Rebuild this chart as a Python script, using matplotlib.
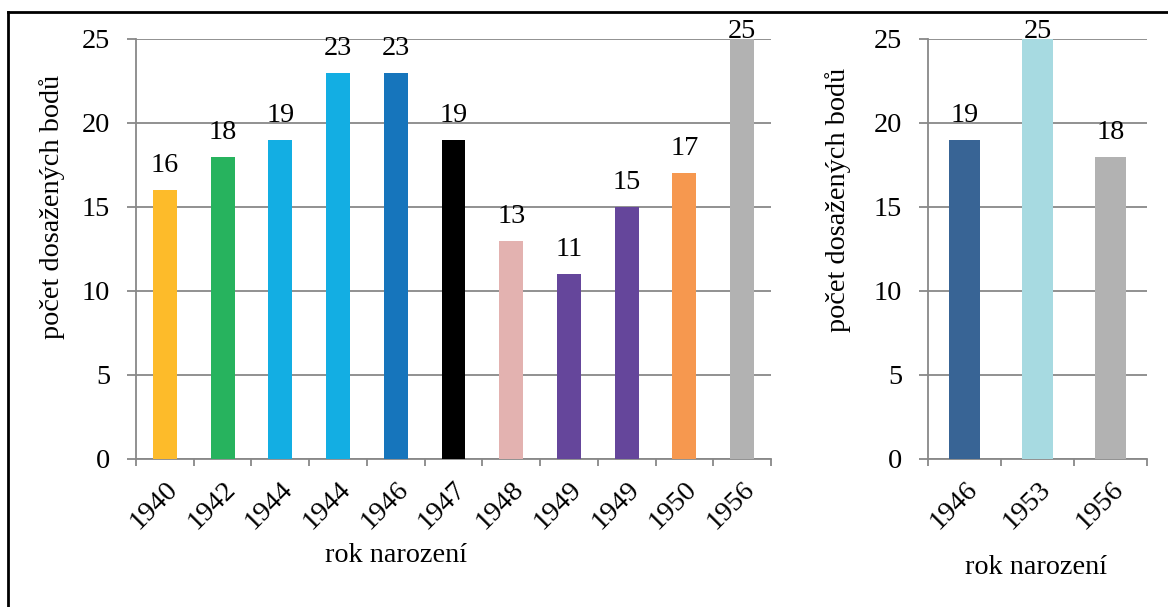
import numpy as np
import matplotlib.pyplot as plt
import matplotlib.transforms as mtransforms
from matplotlib.lines import Line2D

plt.rcParams['font.family'] = ['Liberation Serif', 'DejaVu Serif']

# Data
roky_1 = ['1940', '1942', '1944', '1944', '1946', '1947', '1948', '1949', '1949', '1950', '1956']
body_1 = [16, 18, 19, 23, 23, 19, 13, 11, 15, 17, 25]
barvy_1 = ['#FDBB2A', '#27B35E', '#13AEE3', '#13AEE3', '#1675BC', '#000000',
           '#E3B2B0', '#65469B', '#65469B', '#F6984F', '#B2B2B2']

roky_2 = ['1946', '1953', '1956']
body_2 = [19, 25, 18]
barvy_2 = ['#386495', '#A7DAE1', '#B2B2B2']

fs = 20.3
seda = '#888888'

fig = plt.figure(figsize=(11.68, 6.07), dpi=100)
W, H = 1168, 607


def px_axes(x0, x1, y_top, y_bot):
    return fig.add_axes([x0 / W, 1 - y_bot / H, (x1 - x0) / W, (y_bot - y_top) / H])


def kresli(ax, roky, body, barvy):
    x = np.arange(len(roky))
    ax.bar(x, body, width=0.415, color=barvy, zorder=3)
    ax.set_xlim(-0.5, len(roky) - 0.5)
    ax.set_ylim(0, 25)
    # popisky nad sloupci (u horniho okraje se stlaci dolu jako v Excelu)
    horni = ax.transData.transform((0, 25))[1]
    for xi, v in zip(x, body):
        y_disp = ax.transData.transform((0, v))[1]
        off_px = min(18, horni + 1 - y_disp)
        ax.annotate(str(v), (xi, v), xytext=(0, off_px * 72 / 100), textcoords='offset points',
                    ha='center', va='baseline', fontsize=fs, zorder=4, annotation_clip=False)
    ax.set_yticks(range(0, 26, 5))
    ax.yaxis.grid(True, color=seda, lw=1.3, zorder=0)
    ax.set_xticks(x)
    ax.set_xticklabels(roky, rotation=45, ha='right', rotation_mode='anchor', fontsize=fs)
    posun = mtransforms.ScaledTranslation(-4 / 100, 0, fig.dpi_scale_trans)
    for lab in ax.get_xticklabels():
        lab.set_transform(lab.get_transform() + posun)
    ax.set_xticks(np.arange(len(roky) + 1) - 0.5, minor=True)
    ax.tick_params(axis='x', which='major', length=0, pad=13)
    ax.tick_params(axis='x', which='minor', length=5, width=1.3, color=seda)
    ax.tick_params(axis='y', length=6.5, width=1.3, color=seda, labelsize=fs, pad=12)
    for s in ['top', 'right']:
        ax.spines[s].set_visible(False)
    for s in ['left', 'bottom']:
        ax.spines[s].set_color(seda)
        ax.spines[s].set_linewidth(1.3)


ax1 = px_axes(136, 771, 39, 459)
kresli(ax1, roky_1, body_1, barvy_1)
ax2 = px_axes(928, 1147, 39, 459)
kresli(ax2, roky_2, body_2, barvy_2)

fig.text(52 / W, 1 - 207 / H, 'počet dosažených bodů', rotation=90, ha='center', va='center', fontsize=fs)
fig.text(838 / W, 1 - 200 / H, 'počet dosažených bodů', rotation=90, ha='center', va='center', fontsize=fs)
fig.text(396 / W, 1 - 555 / H, 'rok narození', ha='center', va='center', fontsize=fs)
fig.text(1036 / W, 1 - 568 / H, 'rok narození', ha='center', va='center', fontsize=fs)

# ramecek (jen horni a leva hrana)
fig.add_artist(Line2D([8 / W, 1], [1 - 12 / H, 1 - 12 / H], color='black', lw=2))
fig.add_artist(Line2D([8 / W, 8 / W], [0, 1 - 12 / H], color='black', lw=2))

fig.savefig('out.png', dpi=100)
